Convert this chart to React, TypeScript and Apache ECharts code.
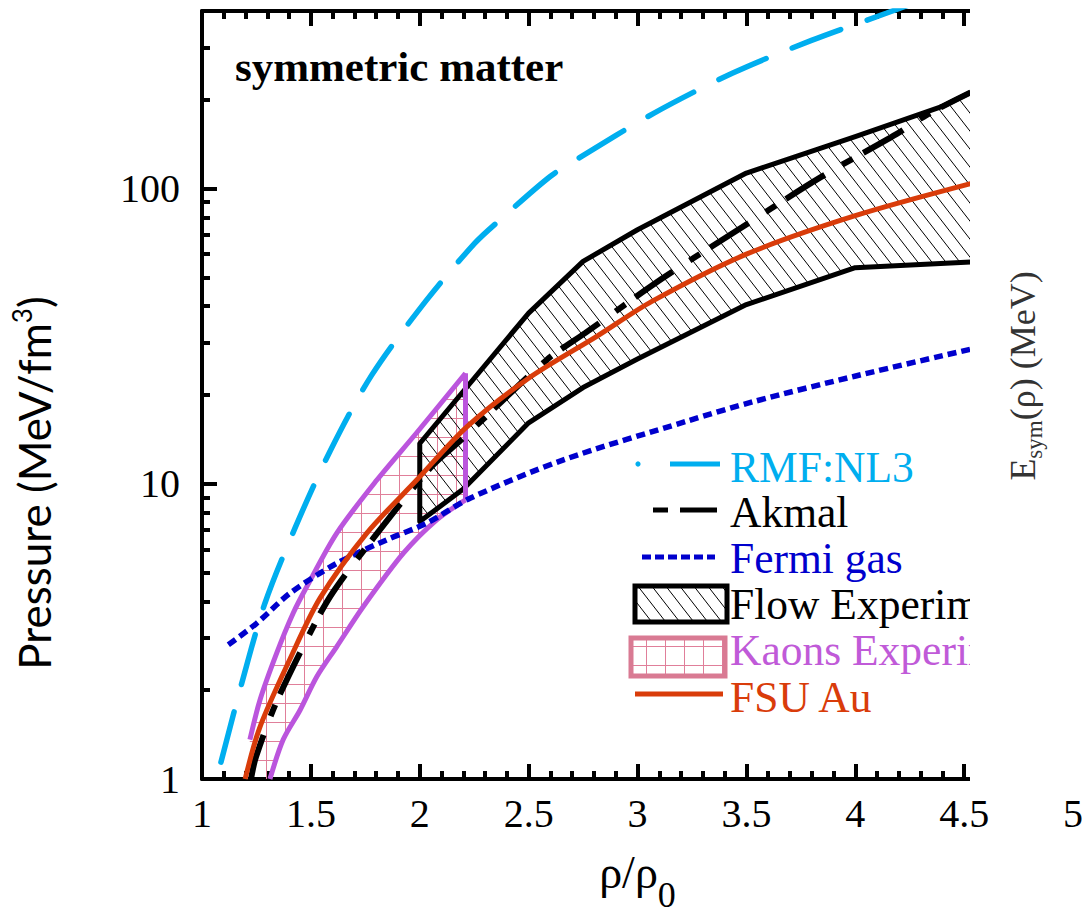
import React, { useEffect, useRef } from 'react';
import * as echarts from 'echarts';

// ---------- data (x = rho/rho0, y = pressure MeV/fm^3) ----------
const xRange = [1, 5];
const yRange = [1, 400];
const yMajorTicks = [1, 10, 100];
const yMinorTicks = [2, 3, 4, 5, 6, 7, 8, 9, 20, 30, 40, 50, 60, 70, 80, 90, 200, 300, 400];

const rmfNL3: number[][] = [
  [1.087, 1.14], [1.187, 2.17], [1.289, 3.94], [1.427, 7.08], [1.588, 12.9], [1.78, 23.4],
  [2.032, 42.0], [2.254, 65.5], [2.369, 78.5], [2.599, 110], [2.731, 127], [3.074, 180],
  [3.44, 247], [3.799, 318], [4.142, 393], [4.53, 500],
];
const akmal: number[][] = [
  [1.225, 1.0], [1.248, 1.19], [1.343, 1.83], [1.519, 3.37], [1.603, 4.31], [1.757, 6.13],
  [2.047, 11.3], [2.2, 14.3], [2.583, 26.3], [2.759, 32.4], [3.12, 50], [3.48, 74],
  [3.838, 109], [4.189, 153], [4.329, 178], [4.53, 212],
];
const fermiGas: number[][] = [
  [1.121, 2.85], [1.251, 3.37], [1.404, 4.26], [1.619, 5.38], [1.848, 6.46], [2.032, 7.36],
  [2.231, 8.94], [2.66, 12.06], [3.226, 16.3], [3.534, 19.0], [4.002, 23.2], [4.532, 28.6],
];
const fsuAu: number[][] = [
  [1.198, 1.0], [1.266, 1.5], [1.404, 2.55], [1.542, 4.1], [1.757, 6.81], [1.986, 10.3],
  [2.216, 15.6], [2.5, 22.8], [2.813, 31.6], [3.066, 41.5], [3.5, 60], [4.0, 81], [4.53, 104],
];
const flowUpper: number[][] = [
  [2.0, 13.7], [2.5, 37.9], [2.75, 56.7], [3.0, 72.6], [3.5, 113], [4.0, 150], [4.4, 190], [4.53, 212],
];
const flowLower: number[][] = [
  [2.0, 7.45], [2.2, 9.6], [2.5, 16.1], [2.75, 21.2], [3.0, 26.5], [3.5, 40.5], [4.0, 54], [4.53, 56.5],
];
const kaonUpper: number[][] = [
  [1.22, 1.36], [1.266, 1.85], [1.343, 2.67], [1.419, 3.65], [1.481, 4.48], [1.619, 6.81],
  [1.803, 10.3], [1.986, 14.9], [2.21, 23.7],
];
const kaonLower: number[][] = [
  [1.312, 1.0], [1.373, 1.36], [1.45, 1.71], [1.527, 2.22], [1.619, 2.81], [1.741, 3.84],
  [1.925, 5.82], [2.078, 7.55], [2.21, 8.83],
];
const kaonFillCorner: number[][] = [[1.205, 1.0]];

const legendLabels = ['RMF:NL3', 'Akmal', 'Fermi gas', 'Flow Experiment', 'Kaons Experiment', 'FSU Au'];

// ---------- colours ----------
const C_RMF = '#00AEEF';
const C_FERMI = '#0000CD';
const C_FSU = '#D93C0A';
const C_KAON = '#BB55DD';
const C_KAON_TEXT = '#C05AD8';
const C_KAON_GRID = '#E07F9A';
const C_KAON_BOX = '#D97A93';

const SERIF = 'Liberation Serif';

function makeHatch(): HTMLCanvasElement {
  const w = 14;
  const h = 18;
  const c = document.createElement('canvas');
  c.width = w;
  c.height = h;
  const g = c.getContext('2d')!;
  g.strokeStyle = '#000';
  g.lineWidth = 1;
  g.beginPath();
  for (const off of [-w, 0, w]) {
    g.moveTo(off - w, -h);
    g.lineTo(off + 2 * w, 2 * h);
  }
  g.stroke();
  return c;
}
function makeGrid(): HTMLCanvasElement {
  const s = 19;
  const c = document.createElement('canvas');
  c.width = s;
  c.height = s;
  const g = c.getContext('2d')!;
  g.strokeStyle = C_KAON_GRID;
  g.lineWidth = 1;
  g.beginPath();
  g.moveTo(0.5, 0); g.lineTo(0.5, s);
  g.moveTo(0, 0.5); g.lineTo(s, 0.5);
  g.stroke();
  return c;
}

function polygonSeries(name: string, pts: number[][], fill: any, z: number) {
  return {
    type: 'custom',
    name,
    coordinateSystem: 'cartesian2d',
    xAxisIndex: 0,
    yAxisIndex: 0,
    data: pts,
    encode: { x: 0, y: 1 },
    clip: true,
    silent: true,
    z,
    renderItem: (params: any, api: any) => {
      if (params.dataIndex !== 0) return null;
      const points = pts.map((p) => api.coord(p));
      return { type: 'polygon', shape: { points }, style: { fill, stroke: 'none' } };
    },
  };
}

export default function App() {
  const ref = useRef<HTMLDivElement>(null);
  useEffect(() => {
    const chart = echarts.init(ref.current!, null, { renderer: 'svg' });
    const hatchC = makeHatch();
    const gridC = makeGrid();
    const hatch = { image: hatchC, repeat: 'repeat', imageWidth: hatchC.width, imageHeight: hatchC.height };
    const gridPat = { image: gridC, repeat: 'repeat', imageWidth: gridC.width, imageHeight: gridC.height };

    const flowPoly = [...flowUpper, ...[...flowLower].reverse()];
    const flowOutline = [...[...flowLower].reverse(), ...flowUpper];
    const kaonPoly = [...kaonUpper, ...[...kaonLower].reverse(), ...kaonFillCorner];
    const kaonRight = [kaonLower[kaonLower.length - 1], kaonUpper[kaonUpper.length - 1]];

    const axisLineStyle = { color: '#000', width: 4 };
    const tickLabel = { fontFamily: SERIF, fontSize: 40, color: '#000' };

    const lx = 730; // legend text x
    const rows = [467, 512, 558, 604, 650, 697];
    const lgText = (i: number, color: string) => ({
      type: 'text', z: 100, x: lx, y: rows[i],
      style: {
        text: legendLabels[i], fill: color, fontFamily: SERIF, fontSize: 43.5,
        verticalAlign: 'middle', align: 'left',
      },
    });
    const kaonLine = (name: string, data: number[][], smooth: number) => ({
      type: 'line', name, data, symbol: 'none', z: 3, smooth,
      lineStyle: { color: C_KAON, width: 5, join: 'round' }, silent: true,
    });

    const option: any = {
      animation: false,
      backgroundColor: '#fff',
      grid: { left: 202, right: 9, top: 11, bottom: 138, containLabel: false, outerBoundsMode: 'none', show: false },
      xAxis: [
        {
          type: 'value', position: 'bottom', min: xRange[0], max: xRange[1], interval: 0.5,
          axisLine: { show: true, onZero: false, lineStyle: axisLineStyle },
          axisTick: { show: true, inside: true, length: 15, lineStyle: axisLineStyle },
          minorTick: { show: true, splitNumber: 5, length: 8, lineStyle: axisLineStyle },
          axisLabel: { ...tickLabel, margin: 14 },
          splitLine: { show: false }, minorSplitLine: { show: false },
          name: '{a|ρ/ρ}{s|0}', nameLocation: 'middle', nameGap: 70,
          nameTextStyle: {
            rich: {
              a: { fontFamily: SERIF, fontSize: 46, color: '#000', lineHeight: 56, verticalAlign: 'top' },
              s: {
                fontFamily: SERIF, fontSize: 36, color: '#000', lineHeight: 36,
                padding: [28, 0, 0, 0], verticalAlign: 'top',
              },
            },
          },
        },
        {
          type: 'value', position: 'top', min: xRange[0], max: xRange[1], interval: 0.5,
          axisLine: { show: true, onZero: false, lineStyle: axisLineStyle },
          axisTick: { show: true, inside: true, length: 15, lineStyle: axisLineStyle },
          minorTick: { show: true, splitNumber: 5, length: 8, lineStyle: axisLineStyle },
          axisLabel: { show: false },
          splitLine: { show: false }, minorSplitLine: { show: false },
        },
      ],
      yAxis: [
        {
          type: 'log', logBase: 10, min: yRange[0], max: yRange[1], position: 'left',
          axisLine: { show: true, onZero: false, lineStyle: axisLineStyle },
          axisTick: { show: true, inside: true, length: 15, lineStyle: axisLineStyle, customValues: yMajorTicks },
          axisLabel: { ...tickLabel, margin: 22, customValues: yMajorTicks },
          splitLine: { show: false },
        },
        {
          type: 'log', logBase: 10, min: yRange[0], max: yRange[1], position: 'left', offset: 0,
          axisLine: { show: false },
          axisTick: { show: true, inside: true, length: 8, lineStyle: axisLineStyle, customValues: yMinorTicks },
          axisLabel: { show: false },
          splitLine: { show: false },
        },
      ],
      series: [
        polygonSeries('Kaons Experiment fill', kaonPoly, gridPat, 1),
        polygonSeries('Flow Experiment fill', flowPoly, hatch, 1),
        {
          type: 'line', name: 'Flow Experiment', data: flowOutline, symbol: 'none', z: 3,
          lineStyle: { color: '#000', width: 5, join: 'round' }, silent: true,
        },
        kaonLine('Kaons Experiment', kaonUpper, 0.3),
        kaonLine('Kaons Experiment', kaonLower, 0.3),
        kaonLine('Kaons Experiment', kaonRight, 0),
        {
          type: 'line', name: 'Fermi gas', data: fermiGas, symbol: 'none', smooth: 0.3, z: 4,
          lineStyle: { color: C_FERMI, width: 5.5, type: [9, 5] }, silent: true,
        },
        {
          type: 'line', name: 'RMF:NL3', data: rmfNL3, symbol: 'none', smooth: 0.3, z: 4,
          lineStyle: { color: C_RMF, width: 5.5, type: [52, 28], cap: 'round' }, silent: true,
        },
        {
          type: 'line', name: 'Akmal', data: akmal, symbol: 'none', smooth: 0.3, z: 5,
          lineStyle: { color: '#000', width: 6, type: [46, 20, 12, 12] }, silent: true,
        },
        {
          type: 'line', name: 'FSU Au', data: fsuAu, symbol: 'none', smooth: 0.3, z: 6,
          lineStyle: { color: C_FSU, width: 5 }, silent: true,
        },
      ],
      graphic: [
        // title
        {
          type: 'text', z: 100, x: 235, y: 66,
          style: {
            text: 'symmetric matter', fontFamily: SERIF, fontSize: 43, fontWeight: 'bold',
            fill: '#000', verticalAlign: 'middle',
          },
        },
        // legend
        { type: 'circle', z: 100, shape: { cx: 638, cy: 464, r: 2.6 }, style: { fill: C_RMF } },
        { type: 'line', z: 100, shape: { x1: 670, y1: 464, x2: 720, y2: 464 }, style: { stroke: C_RMF, lineWidth: 5 } },
        lgText(0, C_RMF),
        { type: 'line', z: 100, shape: { x1: 653, y1: 510, x2: 668, y2: 510 }, style: { stroke: '#000', lineWidth: 5 } },
        { type: 'line', z: 100, shape: { x1: 680, y1: 510, x2: 717, y2: 510 }, style: { stroke: '#000', lineWidth: 5 } },
        lgText(1, '#000'),
        { type: 'line', z: 100, shape: { x1: 642, y1: 557, x2: 715, y2: 557 }, style: { stroke: C_FERMI, lineWidth: 5, lineDash: [9, 4] } },
        lgText(2, C_FERMI),
        { type: 'rect', z: 100, shape: { x: 635, y: 586, width: 92, height: 36 }, style: { fill: hatch, stroke: '#000', lineWidth: 5 } },
        lgText(3, '#000'),
        { type: 'rect', z: 100, shape: { x: 631, y: 638, width: 94, height: 38 }, style: { fill: gridPat, stroke: C_KAON_BOX, lineWidth: 5 } },
        lgText(4, C_KAON_TEXT),
        { type: 'line', z: 100, shape: { x1: 635, y1: 694, x2: 723, y2: 694 }, style: { stroke: C_FSU, lineWidth: 5 } },
        lgText(5, C_FSU),
        // y-axis title
        {
          type: 'text', z: 100, x: 34, y: 483, rotation: Math.PI / 2,
          style: {
            text: '{a|Pressure (MeV/fm}{s|3}{a|)}', align: 'center', verticalAlign: 'middle',
            rich: {
              a: { fontFamily: 'Lato', fontSize: 44, fill: '#000', lineHeight: 50 },
              s: { fontFamily: 'Lato', fontSize: 26, fill: '#000', lineHeight: 26, verticalAlign: 'top' },
            },
          },
        },
        // crop of the neighbouring panel
        { type: 'rect', z: 200, shape: { x: 970, y: 0, width: 112, height: 797 }, style: { fill: '#fff' } },
        {
          type: 'text', z: 300, x: 1023, y: 376, rotation: Math.PI / 2,
          style: {
            text: '{a|E}{s|sym}{a|(ρ) (MeV)}', align: 'center', verticalAlign: 'middle',
            rich: {
              a: { fontFamily: SERIF, fontSize: 36, fill: '#333', lineHeight: 46 },
              s: { fontFamily: SERIF, fontSize: 23, fill: '#333', lineHeight: 23, verticalAlign: 'bottom' },
            },
          },
        },
      ],
    };
    chart.setOption(option);
    return () => chart.dispose();
  }, []);
  return <div ref={ref} style={{ position: 'fixed', left: 0, top: 0, width: 1082, height: 917 }} />;
}
